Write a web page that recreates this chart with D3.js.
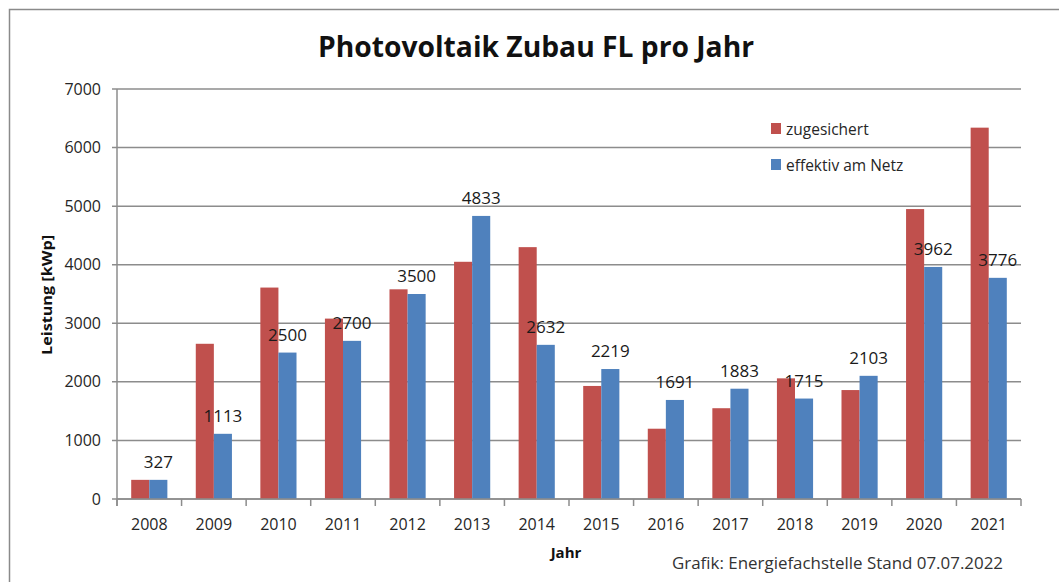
<!DOCTYPE html>
<html>
<head>
<meta charset="utf-8">
<script src="https://cdn.jsdelivr.net/npm/d3@7.9.0/dist/d3.min.js"></script>
<style>
  body { margin: 0; background: #fff; }
  svg { display: block; font-family: 'Open Sans', sans-serif; }
</style>
</head>
<body>
<svg id="chart" width="1059" height="582"></svg>
<script>
const years = ['2008', '2009', '2010', '2011', '2012', '2013', '2014', '2015', '2016', '2017', '2018', '2019', '2020', '2021'];
const zugesichert = [327, 2650, 3610, 3080, 3580, 4050, 4300, 1930, 1200, 1550, 2060, 1860, 4950, 6340];
const effektiv = [327, 1113, 2500, 2700, 3500, 4833, 2632, 2219, 1691, 1883, 1715, 2103, 3962, 3776];
const seriesNames = ['zugesichert', 'effektiv am Netz'];
const seriesColors = ['#c0504d', '#4f81bd'];
const yTicks = [0, 1000, 2000, 3000, 4000, 5000, 6000, 7000];

const svg = d3.select('#chart');
const plotLeft = 117, plotRight = 1021, plotTop = 89, plotBottom = 499;

// outer frame
svg.append('rect')
  .attr('x', 9.5).attr('y', 9.5)
  .attr('width', 1100).attr('height', 700)
  .attr('fill', 'none').attr('stroke', '#8a8a8a').attr('stroke-width', 1.5);

const x = d3.scaleBand().domain(years).range([plotLeft, plotRight]);
const y = d3.scaleLinear().domain([0, 7000]).range([plotBottom, plotTop]);
const xs = d3.scaleBand().domain(seriesNames)
  .range([x.bandwidth() * 0.22, x.bandwidth() * 0.78]);

// gridlines
svg.append('g')
  .selectAll('line')
  .data(yTicks)
  .join('line')
  .attr('x1', plotLeft - 5).attr('x2', plotRight)
  .attr('y1', (d) => y(d)).attr('y2', (d) => y(d))
  .attr('stroke', '#8c8c8c').attr('stroke-width', 1.5);

// y tick labels
svg.append('g')
  .selectAll('text')
  .data(yTicks)
  .join('text')
  .attr('x', 101).attr('y', (d) => y(d) + 5.5)
  .attr('text-anchor', 'end')
  .attr('font-size', 16).attr('fill', '#262626')
  .text((d) => d);

// bars
const rows = years.map((yr, i) => ({ year: yr, values: [zugesichert[i], effektiv[i]] }));
const groups = svg.append('g')
  .selectAll('g')
  .data(rows)
  .join('g')
  .attr('transform', (d) => `translate(${x(d.year)},0)`);

groups.selectAll('rect')
  .data((d) => d.values.map((v, k) => ({ name: seriesNames[k], value: v, color: seriesColors[k] })))
  .join('rect')
  .attr('x', (d) => xs(d.name))
  .attr('width', xs.bandwidth())
  .attr('y', (d) => y(d.value))
  .attr('height', (d) => y(0) - y(d.value))
  .attr('fill', (d) => d.color);

// data labels on effektiv bars
svg.append('g')
  .selectAll('text')
  .data(years)
  .join('text')
  .attr('x', (d) => x(d) + xs(seriesNames[1]) + xs.bandwidth() / 2)
  .attr('y', (d, i) => y(effektiv[i]) - 12)
  .attr('text-anchor', 'middle')
  .attr('font-size', 17).attr('fill', '#1a1a1a')
  .text((d, i) => effektiv[i]);

// axes lines
svg.append('line')
  .attr('x1', plotLeft).attr('x2', plotLeft).attr('y1', plotTop).attr('y2', plotBottom + 7)
  .attr('stroke', '#8c8c8c').attr('stroke-width', 1.5);
svg.append('line')
  .attr('x1', plotLeft).attr('x2', plotRight).attr('y1', plotBottom).attr('y2', plotBottom)
  .attr('stroke', '#8c8c8c').attr('stroke-width', 1.5);

// x ticks at category boundaries
svg.append('g')
  .selectAll('line')
  .data(years.concat(['end']))
  .join('line')
  .attr('x1', (d, i) => plotLeft + i * x.step())
  .attr('x2', (d, i) => plotLeft + i * x.step())
  .attr('y1', plotBottom).attr('y2', plotBottom + 7)
  .attr('stroke', '#8c8c8c').attr('stroke-width', 1.5);

// x labels
svg.append('g')
  .selectAll('text')
  .data(years)
  .join('text')
  .attr('x', (d) => x(d) + x.bandwidth() / 2)
  .attr('y', 530)
  .attr('text-anchor', 'middle')
  .attr('font-size', 16).attr('fill', '#262626')
  .text((d) => d);

// title
svg.append('text')
  .attr('x', 536).attr('y', 57)
  .attr('text-anchor', 'middle')
  .attr('font-size', 28).attr('font-weight', 'bold').attr('fill', '#111')
  .attr('textLength', 436).attr('lengthAdjust', 'spacingAndGlyphs')
  .text('Photovoltaik Zubau FL pro Jahr');

// axis titles
svg.append('text')
  .attr('transform', 'translate(52,295) rotate(-90)')
  .attr('text-anchor', 'middle')
  .attr('font-size', 15).attr('font-weight', 'bold').attr('fill', '#111')
  .attr('textLength', 120).attr('lengthAdjust', 'spacingAndGlyphs')
  .text('Leistung [kWp]');

svg.append('text')
  .attr('x', 566).attr('y', 558)
  .attr('text-anchor', 'middle')
  .attr('font-size', 15).attr('font-weight', 'bold').attr('fill', '#111')
  .text('Jahr');

svg.append('text')
  .attr('x', 672).attr('y', 569)
  .attr('font-size', 16).attr('fill', '#333')
  .attr('textLength', 331).attr('lengthAdjust', 'spacingAndGlyphs')
  .text('Grafik: Energiefachstelle Stand 07.07.2022');

// legend
const legend = svg.append('g')
  .selectAll('g')
  .data(seriesNames)
  .join('g')
  .attr('transform', (d, i) => `translate(771,${123 + i * 36})`);
legend.append('rect')
  .attr('width', 10).attr('height', 11)
  .attr('fill', (d, i) => seriesColors[i]);
legend.append('text')
  .attr('x', 15).attr('y', 11.5)
  .attr('font-size', 15.5).attr('fill', '#262626')
  .text((d) => d);
</script>
</body>
</html>
